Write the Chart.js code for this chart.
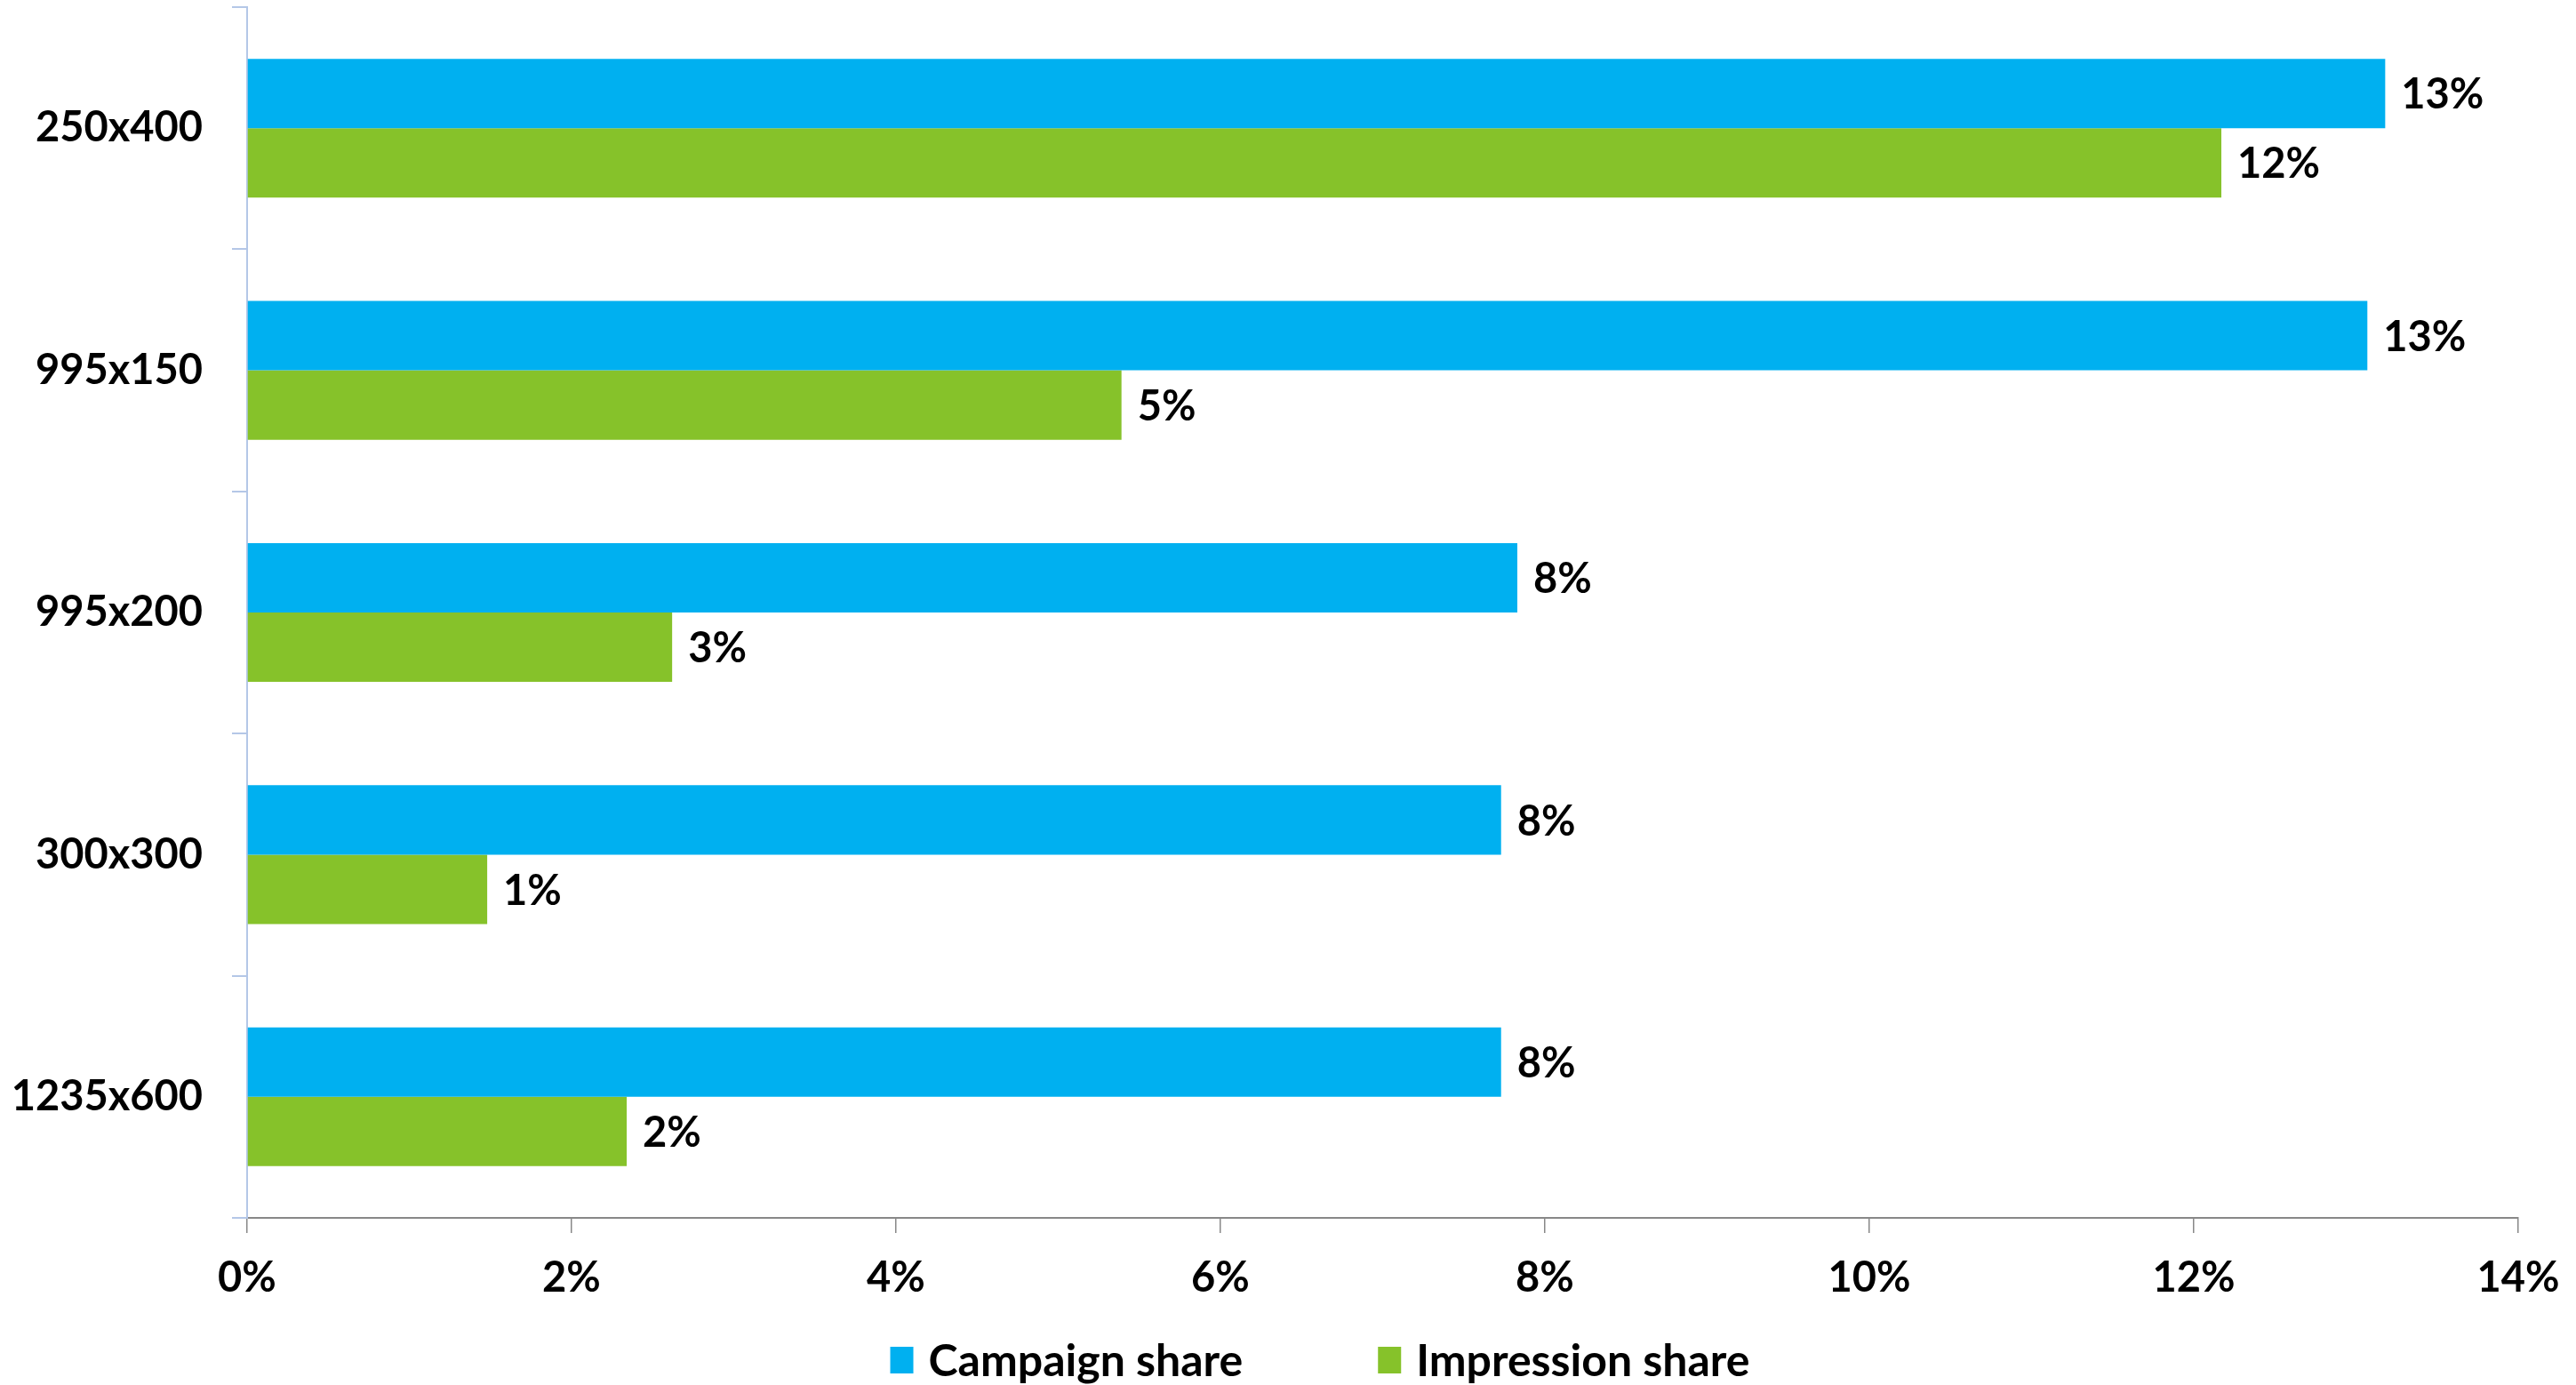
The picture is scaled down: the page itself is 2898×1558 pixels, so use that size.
<!DOCTYPE html>
<html>
<head>
<meta charset="utf-8">
<script src="https://cdn.jsdelivr.net/npm/chart.js@4.4.1/dist/chart.umd.min.js"></script>
<style>
  html, body { margin: 0; padding: 0; background: #fff; }
  #wrap { width: 2898px; height: 1558px; }
</style>
</head>
<body>
<div id="wrap"><canvas id="sizeChart"></canvas></div>
<script>
// ========================== DATA ==============================
const sizes = ['250x400', '995x150', '995x200', '300x300', '1235x600'];
const campaignShare = [13.18, 13.07, 7.83, 7.73, 7.73];
const impressionShare = [12.17, 5.39, 2.62, 1.48, 2.34];
const xTicks = [0, 2, 4, 6, 8, 10, 12, 14];

const BLUE = '#00B0F0';
const GREEN = '#86C22A';
const FONT = { family: 'Lato', weight: 'bold', size: 47 };
const FONT_CSS = 'bold 47px Lato';
const LEGEND_FONT_CSS = 'bold 50px Lato';

// ======================= PLUGINS ==============================
// percentage label just past the end of each bar
const valueLabels = {
  id: 'valueLabels',
  afterDatasetsDraw(chart) {
    const ctx = chart.ctx;
    ctx.save();
    ctx.font = FONT_CSS;
    ctx.fillStyle = '#000';
    ctx.textAlign = 'left';
    ctx.textBaseline = 'middle';
    chart.data.datasets.forEach((ds, i) => {
      chart.getDatasetMeta(i).data.forEach((bar, j) => {
        ctx.fillText(Math.round(ds.data[j]) + '%', bar.x + 18, bar.y + 2);
      });
    });
    ctx.restore();
  }
};

// legend row under the axis
const bottomLegend = {
  id: 'bottomLegend',
  afterDraw(chart) {
    const ctx = chart.ctx;
    const box = 26, boxH = 30, gap = 17, spacing = 152, y = 1530;
    ctx.save();
    ctx.font = LEGEND_FONT_CSS;
    ctx.textBaseline = 'middle';
    ctx.textAlign = 'left';
    const items = chart.data.datasets.map(ds => ({
      label: ds.label, color: ds.backgroundColor, w: ctx.measureText(ds.label).width
    }));
    let total = items.reduce((s, it) => s + box + gap + it.w, 0) + spacing * (items.length - 1);
    let x = chart.width / 2 + 36 - total / 2;
    items.forEach(it => {
      ctx.fillStyle = it.color;
      ctx.fillRect(x, y - boxH / 2, box, boxH);
      ctx.fillStyle = '#000';
      ctx.fillText(it.label, x + box + gap, y + 2);
      x += box + gap + it.w + spacing;
    });
    ctx.restore();
  }
};

// ========================= CHART ==============================
new Chart(document.getElementById('sizeChart'), {
  type: 'bar',
  data: {
    labels: sizes,
    datasets: [
      { label: 'Campaign share', data: campaignShare, backgroundColor: BLUE },
      { label: 'Impression share', data: impressionShare, backgroundColor: GREEN }
    ]
  },
  options: {
    indexAxis: 'y',
    responsive: true,
    maintainAspectRatio: false,
    animation: false,
    datasets: { bar: { categoryPercentage: 0.573, barPercentage: 1 } },
    layout: { padding: { left: 0, right: 65, top: 8, bottom: 0 } },
    plugins: {
      legend: { display: false },
      tooltip: { enabled: false }
    },
    scales: {
      x: {
        type: 'linear',
        min: 0,
        max: 14,
        afterBuildTicks: s => { s.ticks = xTicks.map(v => ({ value: v })); },
        afterFit: s => { s.height = 188; s.paddingLeft = 0; s.paddingRight = 0; },
        border: { display: true, color: '#888888', width: 2 },
        grid: { drawOnChartArea: false, drawTicks: true, tickLength: 17, color: '#888888', lineWidth: 1.5 },
        ticks: {
          color: '#000',
          font: FONT,
          padding: 23,
          callback: v => v + '%'
        }
      },
      y: {
        afterFit: s => { s.width = 278; s.paddingTop = 0; s.paddingBottom = 0; },
        border: { display: true, color: '#B4C7E7', width: 2 },
        grid: { offset: true, drawOnChartArea: false, drawTicks: true, tickLength: 17, color: '#B4C7E7', lineWidth: 2 },
        ticks: { color: '#000', font: FONT, padding: 33 }
      }
    }
  },
  plugins: [valueLabels, bottomLegend]
});
</script>
</body>
</html>
